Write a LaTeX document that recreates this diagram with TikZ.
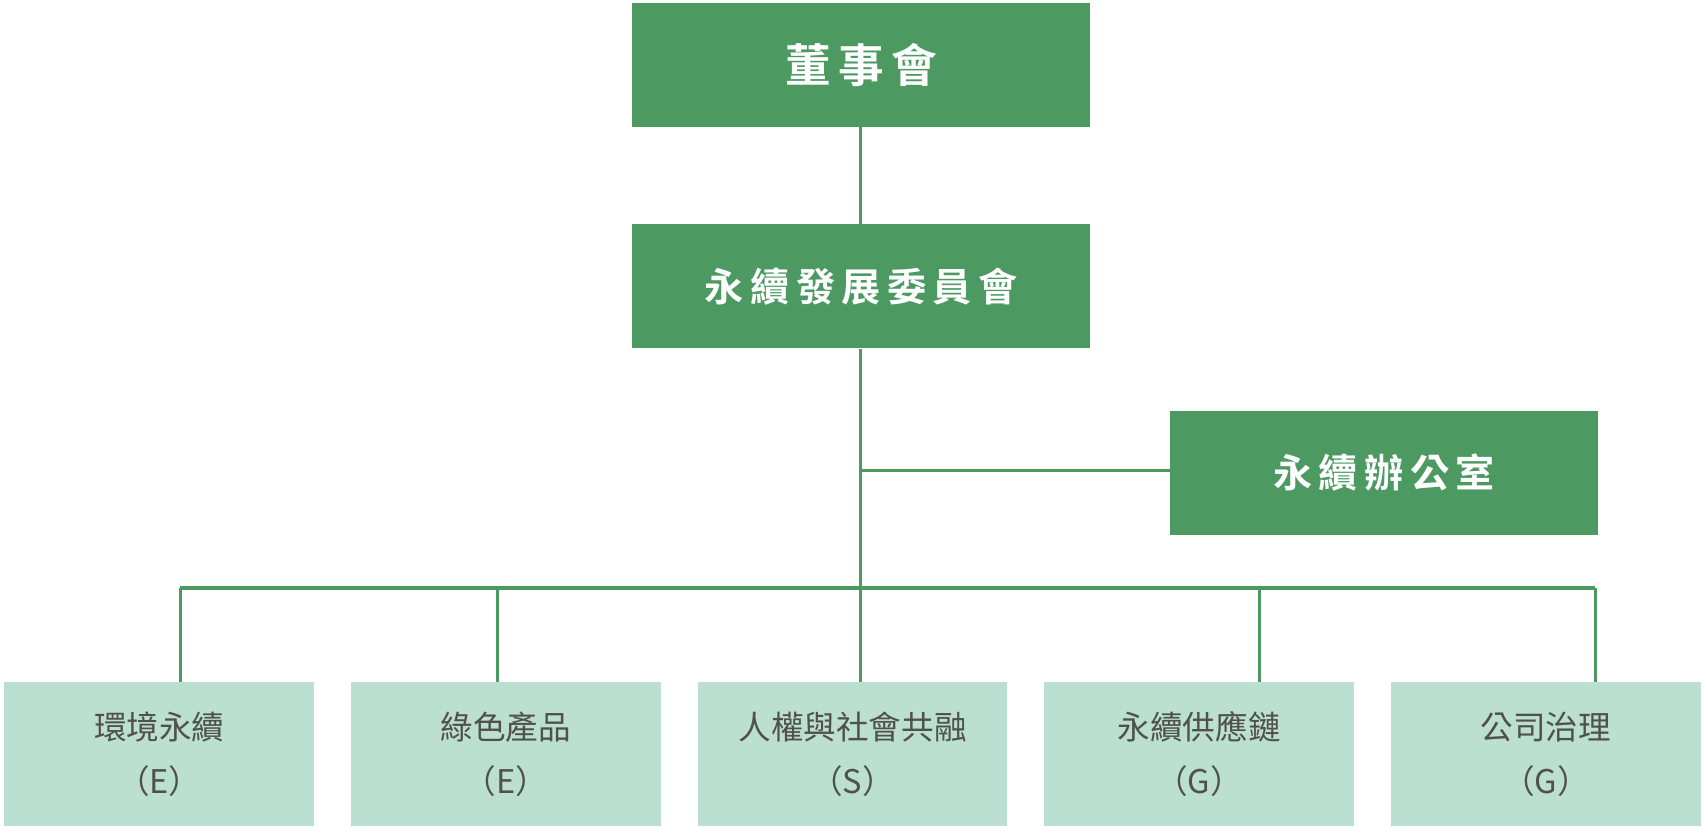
\documentclass[tikz,border=0pt]{standalone}
\usepackage{fontspec}
\newfontfamily\cjk{Noto Sans CJK TC}
\newfontfamily\cjkb{Noto Sans CJK TC Bold}
\definecolor{dg}{HTML}{4C9A62}
\definecolor{lg}{HTML}{BBDFD0}
\definecolor{tg}{HTML}{505050}
\begin{document}
\begin{tikzpicture}[x=1pt,y=-1pt,
  topbox/.style={fill=dg,minimum width=421pt,minimum height=114pt,inner sep=0pt,text=white,font=\cjkb\fontsize{36}{40}\selectfont},
  botbox/.style={fill=lg,minimum width=285pt,minimum height=132pt,inner sep=0pt,text=tg,align=center,font=\cjk\fontsize{30}{50}\selectfont},
  ln/.style={draw=dg,line width=3pt}]
\useasboundingbox (0,0) rectangle (1568,762);
\node[topbox,font=\cjkb\fontsize{42}{46}\selectfont] (a) at (792.5,60) {董\,事\,會};
\node[topbox] (b) at (792.5,263.5) {永\,續\,發\,展\,委\,員\,會};
\node[topbox,minimum width=393pt] (c) at (1273.5,435) {永\,續\,辦\,公\,室};
\node[botbox] (e1) at (146.5,694) {環境永續\\（E）};
\node[botbox] (e2) at (465.5,694) {綠色產品\\（E）};
\node[botbox] (e3) at (784.5,694) {人權與社會共融\\（S）};
\node[botbox] (e4) at (1103.5,694) {永續供應鏈\\（G）};
\node[botbox] (e5) at (1422.5,694) {公司治理\\（G）};
\coordinate (j1) at (792,433);
\coordinate (j2) at (792,541);
\draw[ln] (a.south -| j1) -- (b.north -| j1);
\draw[ln] (b.south -| j1) -- (e3.north -| j1);
\draw[ln] (j1) -- (c.west |- j1);
\draw[ln] (166,541) -- (1468,541);
\foreach \n/\x in {e1/166,e2/458,e4/1159,e5/1468}
  \draw[ln] (\x,541) -- (\n.north -| {(\x,0)});
\end{tikzpicture}
\end{document}
